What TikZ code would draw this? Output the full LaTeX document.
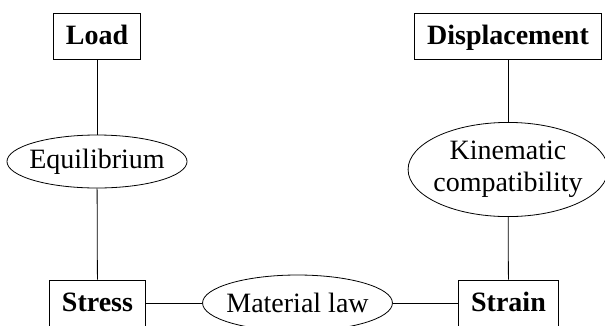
\documentclass[tikz,border=0pt]{standalone}
\usepackage{fontspec}
\setmainfont{Liberation Serif}
\usetikzlibrary{shapes.geometric}
\tikzset{qty/.style = {draw, rectangle, font=\fontsize{28}{32}\selectfont\bfseries, inner xsep=12.5pt, text height=19pt, text depth=1.5pt, minimum height=46pt}}
\tikzset{law/.style = {draw, ellipse, font=\fontsize{28}{32}\selectfont, inner xsep=-4pt, inner ysep=5pt, align=center}}

\begin{document}
\begin{tikzpicture}[x=1pt, y=-1pt, line width=0.8pt]
      \useasboundingbox (0, 0) rectangle (605, 325);
      \node [qty] (load) at (97, 36) {Load};
      \node [qty] (displ) at (508, 36) {Displacement};
      \node [qty] (stress) at (97.5, 303) {Stress};
      \node [qty] (strain) at (508.5, 303) {Strain};
      \node [law, minimum height=53pt] (equil) at (97, 161.5) {Equilibrium};
      \node [law] (kinem) at (508, 169.5) {Kinematic\\compatibility};
      \node [law, minimum height=56pt] (matlaw) at (297.5, 303) {Material law};
      \draw (load) -- (equil);
      \draw (equil) -- (stress);
      \draw (displ) -- (kinem);
      \draw (kinem) -- (strain);
      \draw (stress) -- (matlaw);
      \draw (matlaw) -- (strain);
\end{tikzpicture}
\end{document}
